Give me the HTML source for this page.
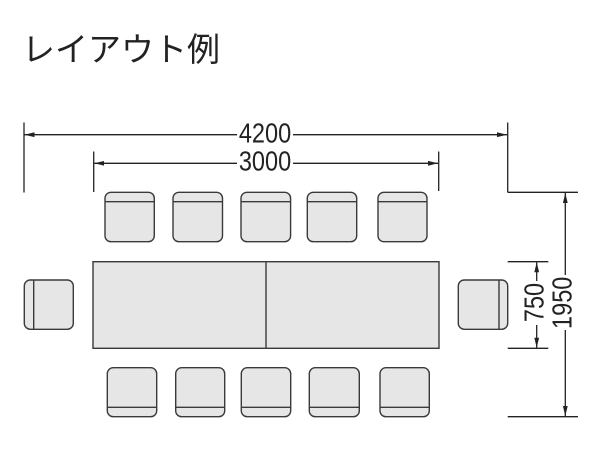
<!DOCTYPE html>
<html><head><meta charset="utf-8"><style>
html,body{margin:0;padding:0;background:#fff;}
svg{display:block;}
</style></head><body>
<svg width="600" height="473" viewBox="0 0 600 473" xmlns="http://www.w3.org/2000/svg">
<defs>
<marker id="ah" viewBox="0 0 10 6" refX="10" refY="3" markerWidth="10" markerHeight="6" markerUnits="userSpaceOnUse" orient="auto">
<path d="M0,0.6 L10,3 L0,5.4 z" fill="#222"/>
</marker>
</defs>
<text x="22" y="61" font-family="'Liberation Sans','Noto Sans CJK JP',sans-serif" font-size="33" fill="#222">レイアウト例</text>

<g stroke="#222" stroke-width="1.3" fill="none">
<!-- 4200 -->
<line x1="24" y1="122.5" x2="24" y2="192.5"/>
<line x1="507.7" y1="122.5" x2="507.7" y2="192.3"/>
<line x1="507.7" y1="192.3" x2="578" y2="192.3"/>
<line x1="237" y1="134.7" x2="24.5" y2="134.7" marker-end="url(#ah)"/>
<line x1="293" y1="134.7" x2="507" y2="134.7" marker-end="url(#ah)"/>
<!-- 3000 -->
<line x1="93.7" y1="151.5" x2="93.7" y2="192"/>
<line x1="438.7" y1="151.5" x2="438.7" y2="191"/>
<line x1="237" y1="163.3" x2="94.2" y2="163.3" marker-end="url(#ah)"/>
<line x1="293" y1="163.3" x2="438" y2="163.3" marker-end="url(#ah)"/>
<!-- 750 -->
<line x1="507.7" y1="261.7" x2="548.3" y2="261.7"/>
<line x1="507.7" y1="348.3" x2="548.3" y2="348.3"/>
<line x1="536.7" y1="281" x2="536.7" y2="262.3" marker-end="url(#ah)"/>
<line x1="536.7" y1="325" x2="536.7" y2="347.7" marker-end="url(#ah)"/>
<!-- 1950 -->
<line x1="507.7" y1="416.7" x2="578" y2="416.7"/>
<line x1="565.3" y1="275" x2="565.3" y2="193" marker-end="url(#ah)"/>
<line x1="565.3" y1="330" x2="565.3" y2="416" marker-end="url(#ah)"/>
</g>

<g font-family="'Liberation Sans',sans-serif" font-size="28" fill="#222" text-anchor="middle">
<text transform="translate(265,142.3) scale(0.84,1)">4200</text>
<text transform="translate(265,170.7) scale(0.84,1)">3000</text>
<text transform="translate(543.3,302.5) rotate(-90) scale(0.84,1)">750</text>
<text transform="translate(571.7,302.8) rotate(-90) scale(0.84,1)">1950</text>
</g>

<g stroke="#3a3a3a" stroke-width="1.4" fill="#e6e6e6">
<!-- table -->
<rect x="93" y="261.7" width="346" height="86.6"/>
<line x1="266" y1="261.7" x2="266" y2="348.3"/>
<!-- top chairs -->
<rect x="105" y="192.3" width="49.3" height="49.4" rx="6"/>
<line x1="105" y1="201.7" x2="154.3" y2="201.7"/>
<rect x="173" y="192.3" width="49.5" height="49.4" rx="6"/>
<line x1="173" y1="201.7" x2="222.5" y2="201.7"/>
<rect x="241" y="192.3" width="49.6" height="49.4" rx="6"/>
<line x1="241" y1="201.7" x2="290.6" y2="201.7"/>
<rect x="307.3" y="192.3" width="49.4" height="49.4" rx="6"/>
<line x1="307.3" y1="201.7" x2="356.7" y2="201.7"/>
<rect x="378" y="192.3" width="49" height="49.4" rx="6"/>
<line x1="378" y1="201.7" x2="427" y2="201.7"/>
<!-- bottom chairs -->
<rect x="107.3" y="367.7" width="49.4" height="49" rx="6"/>
<line x1="107.3" y1="407.3" x2="156.7" y2="407.3"/>
<rect x="175.7" y="367.7" width="49" height="49" rx="6"/>
<line x1="175.7" y1="407.3" x2="224.7" y2="407.3"/>
<rect x="241.3" y="367.7" width="49.4" height="49" rx="6"/>
<line x1="241.3" y1="407.3" x2="290.7" y2="407.3"/>
<rect x="309.3" y="367.7" width="50" height="49" rx="6"/>
<line x1="309.3" y1="407.3" x2="359.3" y2="407.3"/>
<rect x="380" y="367.7" width="49.3" height="49" rx="6"/>
<line x1="380" y1="407.3" x2="429.3" y2="407.3"/>
<!-- side chairs -->
<rect x="24.3" y="280" width="49" height="49.3" rx="6"/>
<line x1="33.7" y1="280" x2="33.7" y2="329.3"/>
<rect x="458.3" y="280" width="49.4" height="49.3" rx="6"/>
<line x1="499" y1="280" x2="499" y2="329.3"/>
</g>
</svg>
</body></html>
